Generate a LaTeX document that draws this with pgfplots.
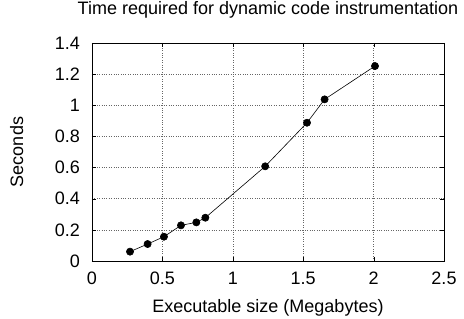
\documentclass[border=0pt]{standalone}
\usepackage{pgfplots}
\pgfplotsset{compat=1.18}
\usepackage{fontspec}
\setmainfont{Liberation Sans}
\begin{document}
\begin{tikzpicture}
\begin{axis}[
  scale only axis,
  width=352bp, height=218bp,
  xmin=0, xmax=2.5, ymin=0, ymax=1.4,
  xtick={0,0.5,1,1.5,2,2.5}, ytick={0,0.2,0.4,0.6,0.8,1,1.2,1.4},
  /pgf/number format/assume math mode=true,
  ticklabel style={font=\fontsize{18bp}{21bp}\selectfont},
  xticklabel style={anchor=base, yshift=-23bp},
  yticklabel style={anchor=east, inner sep=0pt, xshift=-12bp},
  label style={font=\fontsize{18bp}{21bp}\selectfont},
  xlabel={Executable size (Megabytes)},
  xlabel style={at={(rel axis cs:0.5,-0.2385)}, anchor=base},
  ylabel={Seconds},
  ylabel style={at={(rel axis cs:-0.196,0.5)}, anchor=base},
  title={Time required for dynamic code instrumentation},
  title style={font=\fontsize{18bp}{21bp}\selectfont, at={(rel axis cs:0.5,1.1055)}, anchor=base},
  grid=major,
  grid style={dotted, black!60, line width=0.6pt},
  tick align=inside,
  tick style={black},
  axis line style={black, line width=0.9pt},
]
\addplot[black, mark=*, mark size=3.6bp, line width=0.6pt] coordinates {
(0.27,0.06) (0.395,0.109) (0.511,0.156) (0.632,0.229) (0.741,0.248) (0.805,0.278)
(1.23,0.608) (1.527,0.888) (1.652,1.038) (2.01,1.252)
};
\end{axis}
\pgfresetboundingbox
\path[use as bounding box] (current axis.south west) ++(-92bp,-58bp) rectangle ([xshift=20bp,yshift=43bp]current axis.north east);
\end{tikzpicture}
\end{document}
